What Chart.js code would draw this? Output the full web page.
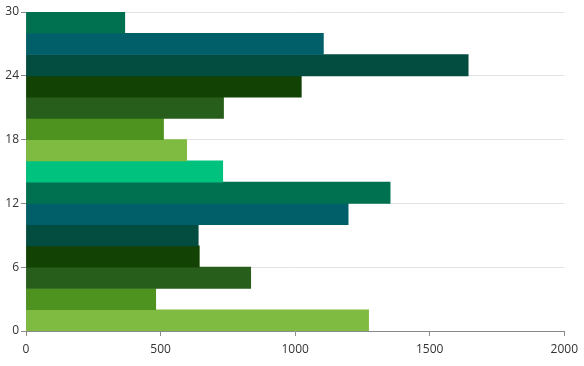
<!DOCTYPE html>
<html>
<head>
<meta charset="utf-8">
<script src="https://cdn.jsdelivr.net/npm/chart.js@4"></script>
<style>
    html, body { margin: 0; padding: 0; background: #fff; }
    #wrap { width: 584px; height: 366px; }
</style>
</head>
<body>
<div id="wrap"><canvas id="barChart" width="584" height="366"></canvas></div>
<script>
// bar centres on the value axis (each bar spans 2 units)
const positions = [1, 3, 5, 7, 9, 11, 13, 15, 17, 19, 21, 23, 25, 27, 29];
const values = [1273, 482, 835, 644, 640, 1197, 1353, 731, 597, 511, 734, 1023, 1643, 1105, 367];
const palette = ['#80bb41', '#4e9220', '#285e1b', '#124304', '#024d3f', '#005f68', '#007150', '#00c27f'];
const yStep = 6;
const xStep = 500;

document.addEventListener("DOMContentLoaded", function () {
    const ctx = document.getElementById('barChart').getContext('2d');

    const points = positions.map((p, i) => ({ x: values[i], y: p }));
    const colors = positions.map((p, i) => palette[i % palette.length]);

    const axisGray = '#8a8a8a';
    const font = { family: 'Open Sans', size: 12 };

    new Chart(ctx, {
        type: 'bar',
        data: {
            datasets: [{
                data: points,
                backgroundColor: colors,
                borderWidth: 0,
                barPercentage: 1,
                categoryPercentage: 1
            }]
        },
        options: {
            indexAxis: 'y',
            responsive: false,
            animation: false,
            layout: { padding: { top: 12, right: 19, left: 0, bottom: 0 } },
            plugins: {
                legend: { display: false },
                tooltip: { enabled: false }
            },
            scales: {
                x: {
                    type: 'linear',
                    min: 0,
                    max: 2000,
                    afterFit: s => { s.height = 35; },
                    grid: { color: 'rgba(0,0,0,0)', tickColor: axisGray, tickLength: 5 },
                    border: { color: axisGray, width: 1 },
                    ticks: {
                        stepSize: xStep, autoSkip: false, color: '#333', font: font,
                        padding: 6, maxRotation: 0,
                        callback: v => String(v)
                    }
                },
                y: {
                    type: 'linear',
                    min: 0,
                    max: 30,
                    offset: false,
                    afterFit: s => { s.width = 26; },
                    grid: { offset: false, color: '#e3e3e3', tickColor: axisGray, tickLength: 5 },
                    border: { color: axisGray, width: 1 },
                    ticks: {
                        stepSize: yStep, autoSkip: false, color: '#333', font: font,
                        padding: 2,
                        callback: v => String(v)
                    }
                }
            }
        }
    });
});
</script>
</body>
</html>
